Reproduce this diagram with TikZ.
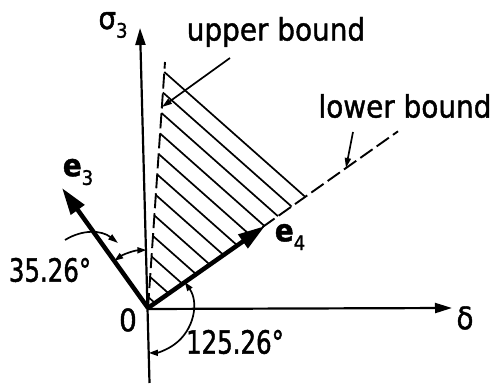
\documentclass[tikz,border=0pt]{standalone}
\usepackage{fontspec}
\setmainfont{DejaVu Sans Condensed}[FakeBold=1.3]
\newfontfamily\numfont[FakeStretch=0.85,FakeBold=1.3]{DejaVu Sans Condensed}
\usetikzlibrary{arrows.meta,calc}
\newcommand\mysub[1]{\raisebox{-0.28em}{\fontsize{20}{20}\selectfont #1}}
\begin{document}
\begin{tikzpicture}[x=1pt,y=1pt,
  lbl/.style={font=\fontsize{31}{36}\selectfont, inner sep=0pt},
  numlbl/.style={font=\fontsize{32}{36}\selectfont\numfont, inner sep=0pt},
  axis/.style={line width=2.2pt, -{Triangle[length=17pt,width=10pt]}},
  vec/.style={line width=4.5pt, -{Triangle[length=27pt,width=16pt]}},
  hatch/.style={line width=1.7pt},
  bound/.style={line width=1.9pt, dash pattern=on 15pt off 5pt},
  leader/.style={line width=1.7pt, -{Triangle[length=10pt,width=6pt]}},
  dim/.style={line width=1.7pt, {Triangle[length=9pt,width=6pt]}-{Triangle[length=9pt,width=6pt]}},
]
\useasboundingbox (0,0) rectangle (499,385);
\fill[white] (0,0) rectangle (499,385);
% key points
\coordinate (O) at (148,77);
\coordinate (vb) at (149.5,2);
\coordinate (vt) at (140,357);
\coordinate (hl) at (148,76);
\coordinate (hr) at (452,77);
\coordinate (U) at (165,323);
\coordinate (L) at (398,253.7);
\coordinate (e3tip) at (62,197);
\coordinate (e4tip) at (265,159);
% hatching
\foreach \k in {0,...,11}{
  \pgfmathsetmacro\yy{313-20.5*\k}
  \pgfmathsetmacro\xx{148+(\yy-77)*17/246}
  \coordinate (hs) at (\xx,\yy);
  \coordinate (he) at (\xx+100,\yy-88.6);
  \draw[hatch] (hs) -- (intersection of hs--he and O--L);
}
% bounds
\draw[bound] (O) -- (U);
\draw[bound] (O) -- (L);
% axes
\draw[axis] (vb) -- (vt);
\draw[axis] (hl) -- (hr);
% vectors
\draw[vec] (O) -- (e3tip);
\draw[vec] (O) -- (e4tip);
% leaders
\coordinate (ubs) at (230,327);
\coordinate (ubt) at (162,278);
\draw[leader] (ubs) -- (ubt);
\coordinate (lbs) at (353,253);
\coordinate (lbt) at (346,217);
\draw[leader] (lbs) -- (lbt);
% angle arcs
\draw[dim] ($(O)+(91.6:58)$) arc[start angle=91.6, end angle=125.6, radius=58];
\draw[dim] ($(O)+(35.26:45)$) arc[start angle=35.26, end angle=-88.9, radius=45];
\coordinate (a1s) at (65,145);
\coordinate (a1t) at (118,142);
\draw[leader] (a1s) to[bend left=35] (a1t);
% labels
\node[lbl] (ub) at (276,353) {upper bound};
\node[lbl] (lb) at (405,279) {lower bound};
\node[lbl] (s3) at (113,360) {σ\mysub{3}};
\node[lbl] (dl) at (465,67) {δ};
\node[lbl] (Ol) at (128,65) {0};
\node[lbl] (e3l) at (78,213) {\textbf{e}\mysub{3}};
\node[lbl] (e4l) at (290,148) {\textbf{e}\mysub{4}};
\node[numlbl] (a1) at (50,115) {35.26°};
\node[numlbl] (a2) at (235,43) {125.26°};
\end{tikzpicture}
\end{document}
